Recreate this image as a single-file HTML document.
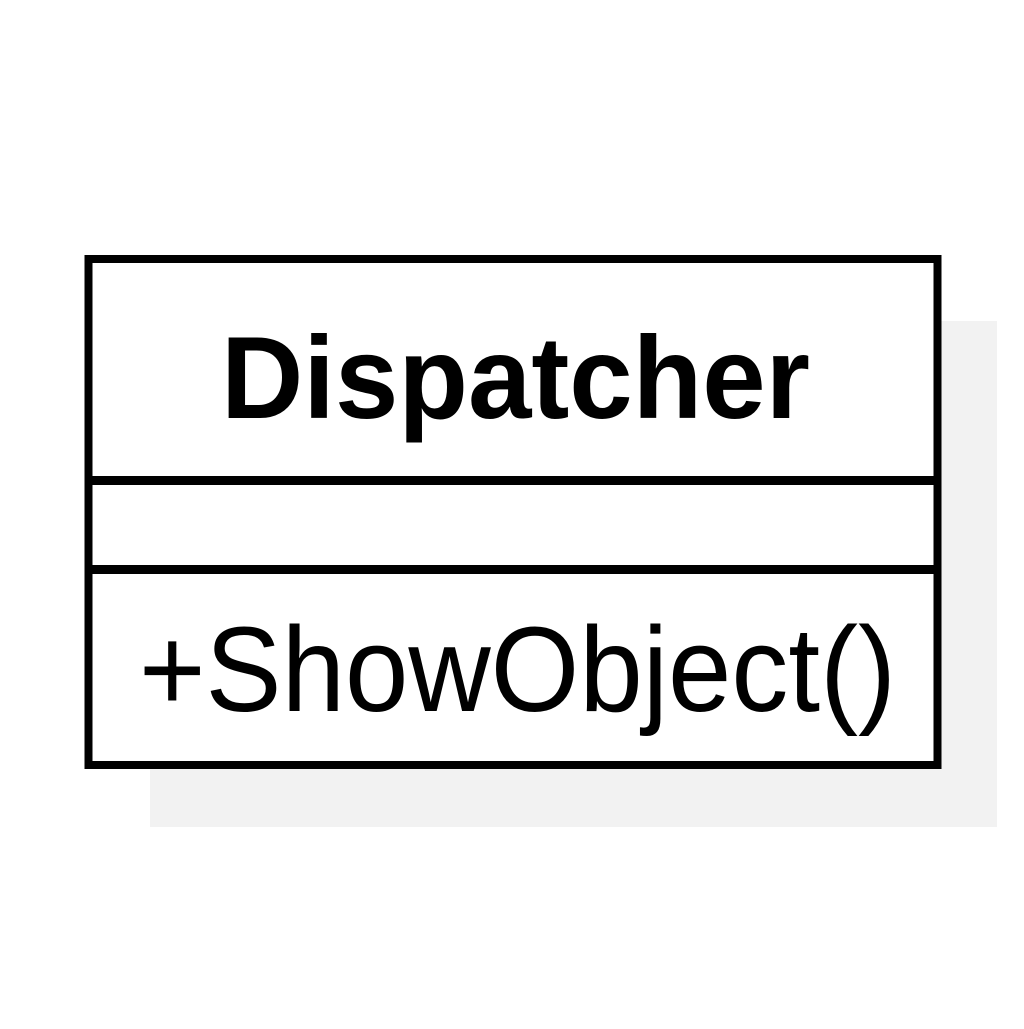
<!DOCTYPE html>
<html><head><style>html,body{margin:0;padding:0;background:#fff;}</style></head>
<body>
<svg width="1024" height="1024" viewBox="0 0 1024 1024" xmlns="http://www.w3.org/2000/svg">
<rect x="0" y="0" width="1024" height="1024" fill="#fff"/>
<rect x="150" y="321" width="847" height="506" fill="#f2f2f2"/>
<rect x="88.5" y="259" width="849" height="506" fill="#fff" stroke="#000" stroke-width="8"/>
<rect x="85" y="476" width="856" height="9" fill="#000"/>
<rect x="85" y="565" width="856" height="9" fill="#000"/>
<text x="221" y="418" font-family="Liberation Sans, Arial, sans-serif" font-weight="bold" font-size="117" textLength="589" lengthAdjust="spacingAndGlyphs">Dispatcher</text>
<text x="139" y="711" font-family="Liberation Sans, Arial, sans-serif" font-size="121" textLength="757" lengthAdjust="spacingAndGlyphs">+ShowObject()</text>
</svg>
</body></html>
